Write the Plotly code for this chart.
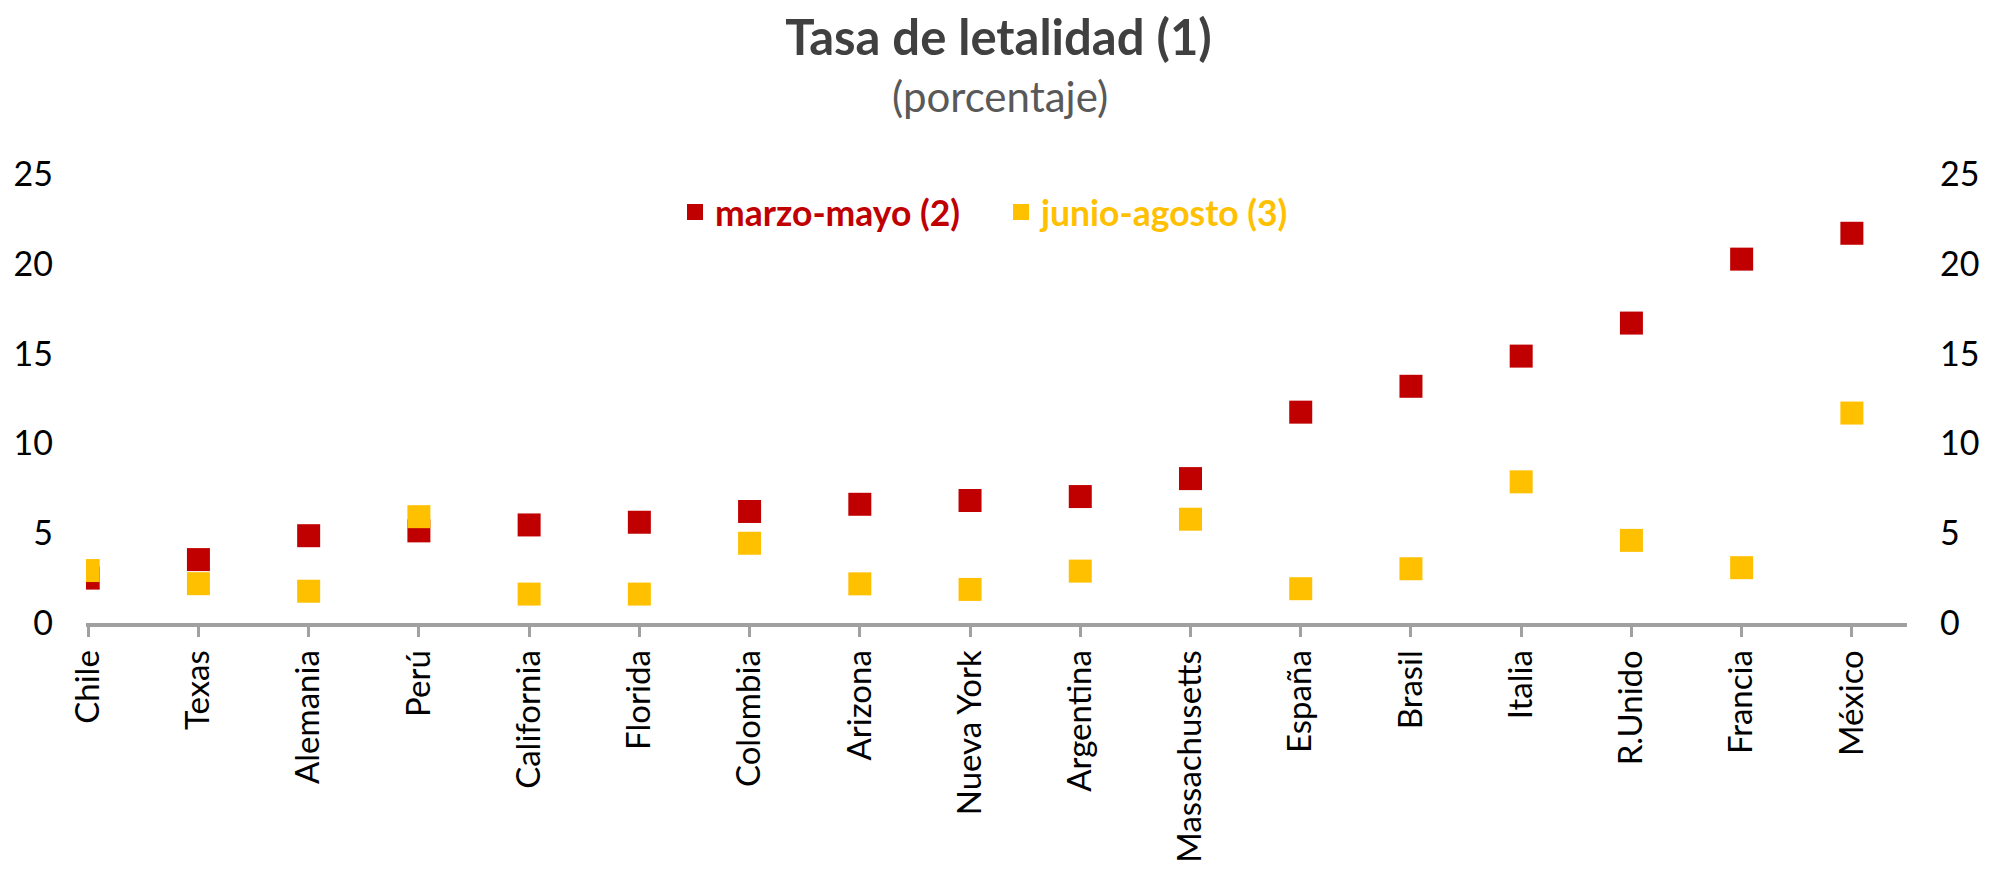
import plotly.graph_objects as go

categories = ["Chile", "Texas", "Alemania", "Perú", "California", "Florida", "Colombia",
              "Arizona", "Nueva York", "Argentina", "Massachusetts", "España", "Brasil",
              "Italia", "R.Unido", "Francia", "México"]
marzo_mayo = [2.5, 3.53, 4.86, 5.13, 5.46, 5.61, 6.21, 6.61, 6.82, 7.04, 8.04, 11.74,
              13.18, 14.86, 16.7, 20.26, 21.7]
junio_agosto = [2.92, 2.19, 1.77, 5.92, 1.61, 1.61, 4.44, 2.18, 1.87, 2.89, 5.78, 1.91,
                3.02, 7.86, 4.6, 3.08, 11.69]
y_ticks = [0, 5, 10, 15, 20, 25]

RED = "#C00000"
YEL = "#FFC000"
x_idx = list(range(len(categories)))

# page has an 8px body margin; figure is sized/offset to compensate
W, H = 1990, 864
L, T = 78, 165.5
R = W - 1899
B = H - 615.5
PW, PH = W - L - R, H - T - B

fig = go.Figure()
fig.add_trace(go.Scatter(
    x=x_idx, y=marzo_mayo, mode="markers",
    name=f"<span style='color:{RED}'><b>marzo-mayo (2)</b></span>",
    marker=dict(symbol="square", size=23, color=RED, line=dict(width=0)),
))
fig.add_trace(go.Scatter(
    x=x_idx, y=junio_agosto, mode="markers",
    name=f"<span style='color:{YEL}'><b>junio-agosto (3)</b></span>",
    marker=dict(symbol="square", size=23, color=YEL, line=dict(width=0)),
))
# invisible trace to carry right axis
fig.add_trace(go.Scatter(x=[x_idx[0]], y=[y_ticks[0]], yaxis="y2", mode="markers",
                         marker=dict(opacity=0), showlegend=False, hoverinfo="skip"))

fig.update_layout(
    width=W, height=H,
    paper_bgcolor="white", plot_bgcolor="white",
    margin=dict(l=L, r=R, t=T, b=B, autoexpand=False),
    title=dict(text="<b>Tasa de letalidad (1)</b>", x=990.5 / W, xanchor="center",
               y=1 - 30 / H, yanchor="middle",
               font=dict(family="Lato", size=49, color="#404040")),
    annotations=[dict(text="(porcentaje)", xref="paper", yref="paper",
                      x=(992 - L) / PW, y=1 + (T - 87) / PH,
                      xanchor="center", yanchor="middle", showarrow=False,
                      font=dict(family="Lato", size=42, color="#595959"))],
    showlegend=True,
    legend=dict(orientation="h", x=(667 - L) / PW, y=1 - (204 - T) / PH,
                xanchor="left", yanchor="middle",
                font=dict(family="Lato", size=35.5),
                entrywidth=281, entrywidthmode="pixels",
                itemsizing="trace", itemwidth=30, bgcolor="rgba(0,0,0,0)"),
    xaxis=dict(range=[-0.02, 16.5], tickvals=x_idx, ticktext=categories,
               tickangle=-90, tickfont=dict(family="Lato", size=33, color="black"),
               showgrid=False, zeroline=False, automargin=False,
               showline=True, linecolor="#A0A0A0", linewidth=4,
               ticks="outside", ticklen=10, tickwidth=3, tickcolor="#A0A0A0"),
    yaxis=dict(range=[0, 25], tickvals=y_ticks, showgrid=False, zeroline=False,
               showline=False, ticks="", ticklabelstandoff=32, automargin=False,
               tickfont=dict(family="Lato", size=34, color="black")),
    yaxis2=dict(range=[0, 25], tickvals=y_ticks, overlaying="y", side="right",
                showgrid=False, zeroline=False, showline=False, ticks="",
                ticklabelstandoff=32, automargin=False,
                tickfont=dict(family="Lato", size=34, color="black")),
    hovermode=False,
)

fig.write_html("out.html")
